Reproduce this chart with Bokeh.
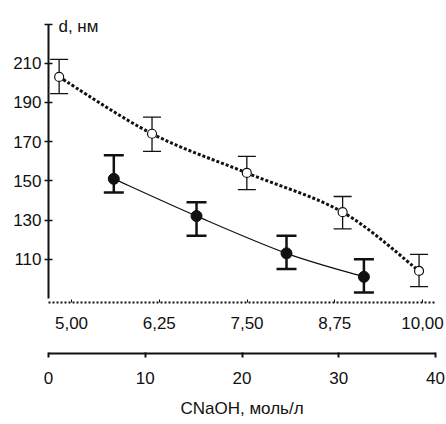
import numpy as np
from bokeh.plotting import figure
from bokeh.models import (Range1d, LinearAxis, FixedTicker, Whisker, TeeHead,
                          ColumnDataSource, Label)
from bokeh.embed import file_html
from bokeh.resources import INLINE

# ---- data ----
open_x = [1.1, 10.7, 20.5, 30.4, 38.3]
open_d = [203, 174, 154, 134, 104]
open_lo = [194.5, 165, 145.5, 125.5, 96]
open_hi = [212, 182.5, 162.5, 142, 112.5]

filled_x = [6.75, 15.3, 24.6, 32.6]
filled_d = [151, 132, 113, 101]
filled_lo = [144, 122, 105, 93]
filled_hi = [163, 139, 122, 110]

y_ticks = [110, 130, 150, 170, 190, 210, 230]
y_tick_labels = ["110", "130", "150", "170", "190", "210", ""]
top_ticks = [5.0, 6.25, 7.5, 8.75, 10.0]
top_tick_labels = ["5,00", "6,25", "7,50", "8,75", "10,00"]
bottom_ticks = [0, 10, 20, 30, 40]
x_title = "CNaOH, моль/л"
y_title = "d, нм"

FONT = "Liberation Sans"
INK = "#111111"
FS = "17px"


def catmull_bezier(xs, ys):
    px = np.asarray(xs, float)
    py = np.asarray(ys, float)
    n = len(px)
    ex = np.concatenate([[px[0]], px, [px[-1]]])
    ey = np.concatenate([[py[0]], py, [py[-1]]])
    return dict(
        x0=px[:-1], y0=py[:-1], x1=px[1:], y1=py[1:],
        cx0=ex[1:n] + (ex[2:n + 1] - ex[0:n - 1]) / 6.0,
        cy0=ey[1:n] + (ey[2:n + 1] - ey[0:n - 1]) / 6.0,
        cx1=ex[2:n + 1] - (ex[3:n + 2] - ex[1:n]) / 6.0,
        cy1=ey[2:n + 1] - (ey[3:n + 2] - ey[1:n]) / 6.0,
    )


p = figure(width=446, height=424, output_backend="svg", toolbar_location=None,
           x_range=Range1d(0, 40), y_range=Range1d(87.91, 240.97),
           x_axis_location=None, title=None,
           min_border_left=48, min_border_right=11, min_border_top=2,
           min_border_bottom=122)
p.outline_line_color = None
p.grid.visible = False
p.background_fill_color = "white"
p.border_fill_color = "white"

# ---- y axis ----
ya = p.yaxis[0]
ya.ticker = FixedTicker(ticks=y_ticks)
ya.major_label_overrides = {t: l for t, l in zip(y_ticks, y_tick_labels)}
ya.bounds = (90, 230)
ya.axis_line_width = 2
ya.axis_line_color = INK
ya.major_tick_in = 4
ya.major_tick_out = 4
ya.major_tick_line_width = 1.5
ya.major_tick_line_color = INK
ya.minor_tick_line_color = None
ya.major_label_standoff = 3
ya.major_label_text_font = FONT
ya.major_label_text_font_size = FS
ya.major_label_text_color = INK

# ---- upper (dotted) x axis: concentration scale ----
p.extra_x_ranges = {"conc": Range1d(4.672, 10.185)}
ua = LinearAxis(x_range_name="conc", ticker=FixedTicker(ticks=top_ticks))
ua.major_label_overrides = {t: l for t, l in zip(top_ticks, top_tick_labels)}
ua.axis_line_width = 2
ua.axis_line_dash = "2 2"
ua.axis_line_color = INK
ua.major_tick_in = 3
ua.major_tick_out = 0
ua.major_tick_line_color = INK
ua.minor_tick_line_color = None
ua.major_label_standoff = 14
ua.major_label_text_font = FONT
ua.major_label_text_font_size = FS
ua.major_label_text_color = INK
ua.axis_label = " "
ua.axis_label_text_font_size = "10px"
ua.axis_label_standoff = 8
p.add_layout(ua, "below")

# ---- lower x axis ----
la = LinearAxis(ticker=FixedTicker(ticks=bottom_ticks))
la.axis_line_width = 2
la.axis_line_color = INK
la.major_tick_in = 1
la.major_tick_out = 4
la.major_tick_line_width = 2
la.major_tick_line_color = INK
la.minor_tick_line_color = None
la.major_label_standoff = 14
la.major_label_text_font = FONT
la.major_label_text_font_size = FS
la.major_label_text_color = INK
la.axis_label = x_title
la.axis_label_text_font = FONT
la.axis_label_text_font_size = FS
la.axis_label_text_font_style = "normal"
la.axis_label_text_color = INK
la.axis_label_standoff = 12
p.add_layout(la, "below")

# ---- y title ----
p.add_layout(Label(x=1.03, y=228.7, text=y_title, text_font=FONT,
                   text_font_size=FS, text_color=INK,
                   text_baseline="alphabetic", text_align="left"))

# ---- open series (dotted curve) ----
osrc = ColumnDataSource(dict(x=open_x, d=open_d, lo=open_lo, hi=open_hi))
p.add_layout(Whisker(source=osrc, base="x", lower="lo", upper="hi",
                     dimension="height", line_width=1.3, line_color=INK,
                     upper_head=TeeHead(size=18, line_width=1.3, line_color=INK),
                     lower_head=TeeHead(size=18, line_width=1.3, line_color=INK)))
p.bezier(source=ColumnDataSource(catmull_bezier(open_x, open_d)),
         x0="x0", y0="y0", x1="x1", y1="y1", cx0="cx0", cy0="cy0",
         cx1="cx1", cy1="cy1", line_color=INK, line_width=3, line_dash="3 2")
p.scatter(x="x", y="d", source=osrc, size=9, marker="circle",
          fill_color="white", line_color=INK, line_width=1.2)

# ---- filled series (solid curve) ----
fsrc = ColumnDataSource(dict(x=filled_x, d=filled_d, lo=filled_lo, hi=filled_hi))
p.add_layout(Whisker(source=fsrc, base="x", lower="lo", upper="hi",
                     dimension="height", line_width=2.5, line_color=INK,
                     upper_head=TeeHead(size=20, line_width=2.5, line_color=INK),
                     lower_head=TeeHead(size=20, line_width=2.5, line_color=INK)))
p.bezier(source=ColumnDataSource(catmull_bezier(filled_x, filled_d)),
         x0="x0", y0="y0", x1="x1", y1="y1", cx0="cx0", cy0="cy0",
         cx1="cx1", cy1="cy1", line_color=INK, line_width=1.2)
p.scatter(x="x", y="d", source=fsrc, size=11, marker="circle",
          fill_color=INK, line_color=INK)

open("out.html", "w").write(file_html(p, INLINE))
